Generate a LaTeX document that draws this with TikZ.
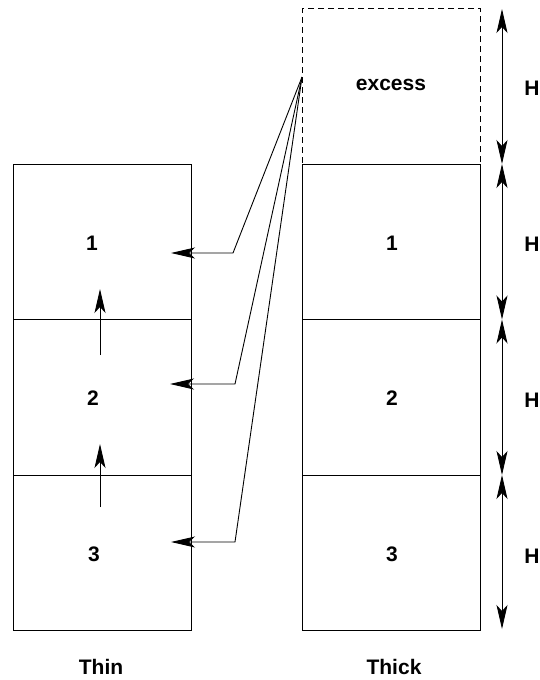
\documentclass[tikz,border=0pt]{standalone}
\usepackage{fontspec}
\setmainfont{Liberation Sans}
\usetikzlibrary{arrows.meta}
\tikzset{
  cell/.style={draw, line width=0.9pt, rectangle, minimum width=178pt, minimum height=155.5pt, inner sep=0pt, outer sep=0pt},
  dcell/.style={cell, dashed, dash pattern=on 6pt off 4pt},
  lbl/.style={font=\fontsize{21}{25}\selectfont\bfseries, inner sep=0pt},
  tipa/.tip={Stealth[length=24pt, width=11pt, inset=6pt]},
  arr/.style={line width=0.9pt, -tipa},
  darr/.style={line width=0.9pt, tipa-tipa},
}
\begin{document}
\begin{tikzpicture}[x=1pt, y=-1pt]
\useasboundingbox (0,0) rectangle (540,680);
% left column
\node[cell] (L1) at (102,241.75) {};
\node[cell] (L2) at (102,397.25) {};
\node[cell] (L3) at (102,552.75) {};
% right column
\node[dcell] (R0) at (391.5,86.25) {};
\node[cell] (R1) at (391.5,241.75) {};
\node[cell] (R2) at (391.5,397.25) {};
\node[cell] (R3) at (391.5,552.75) {};
% labels
\node[lbl] (l1) at (92,243) {1};
\node[lbl] (l2) at (93,398) {2};
\node[lbl] (l3) at (94,554) {3};
\node[lbl] (ex) at (391,85) {excess};
\node[lbl] (r1) at (392,243) {1};
\node[lbl] (r2) at (392,398) {2};
\node[lbl] (r3) at (392,554) {3};
\node[lbl] (thin) at (101,667) {Thin};
\node[lbl] (thick) at (394,667) {Thick};
\node[lbl] (h0) at (532,88) {H};
\node[lbl] (h1) at (532,244) {H};
\node[lbl] (h2) at (532,400) {H};
\node[lbl] (h3) at (532,556) {H};
% fan of connectors
\coordinate (o) at (302,77);
\coordinate (k1) at (233,253);
\coordinate (t1) at (171,253);
\coordinate (k2) at (235,384);
\coordinate (t2) at (170,384);
\coordinate (k3) at (235,542);
\coordinate (t3) at (171,542);
\draw[arr] (o) -- (k1) -- (t1);
\draw[arr] (o) -- (k2) -- (t2);
\draw[arr] (o) -- (k3) -- (t3);
% upward arrows in thin column
\coordinate (u1a) at (100,355);
\coordinate (u1b) at (100,289);
\coordinate (u2a) at (100,507);
\coordinate (u2b) at (100,444);
\draw[arr] (u1a) -- (u1b);
\draw[arr] (u2a) -- (u2b);
% height arrows
\coordinate (v0) at (502,9);
\coordinate (v1) at (502,164);
\coordinate (v2) at (502,319.5);
\coordinate (v3) at (502,475);
\coordinate (v4) at (502,629);
\draw[darr] (v0) -- (v1);
\draw[darr] (v1) -- (v2);
\draw[darr] (v2) -- (v3);
\draw[darr] (v3) -- (v4);
\end{tikzpicture}
\end{document}
